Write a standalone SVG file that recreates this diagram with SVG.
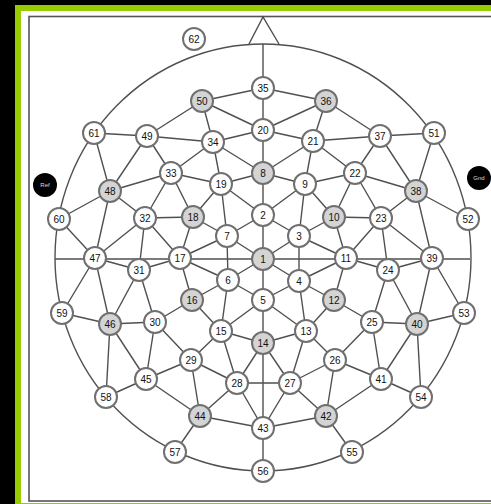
<svg xmlns="http://www.w3.org/2000/svg" width="491" height="504" viewBox="0 0 491 504">
<style>
.e{stroke:#505050;stroke-width:1.4;fill:none}
.n{fill:#fff;stroke:#707070;stroke-width:2}
.g{fill:#d4d4d4;stroke:#707070;stroke-width:2}
.b{fill:#000}
text{font-family:"Liberation Sans",Arial,sans-serif;font-size:10px;fill:#111;text-anchor:middle}
.w{font-size:6px;fill:#ddd}
</style>
<rect width="491" height="504" fill="#000"/>
<rect x="15" y="5" width="476" height="499" fill="#99cc00"/>
<rect x="21" y="11" width="470" height="492" fill="#fff"/>
<rect x="29" y="16.500" width="470" height="484.500" fill="none" stroke="#555" stroke-width="1.600"/>
<g id="connectors" class="e">
<ellipse cx="263" cy="257.500" rx="208" ry="213.500"/>
<path d="M249 44L263 17L279 44M263 44V471M55 259H470"/>
<path d="M202 101L263 88M202 101L147 136M202 101L213 142M202 101L263 130M263 88L326 101M326 101L263 130M326 101L313 141M326 101L380 136M94 133L147 136M94 133L110 191M147 136L213 142M147 136L110 191M147 136L171 173M213 142L263 130M213 142L171 173M213 142L221 184M213 142L263 173M171 173L110 191M171 173L145 218M171 173L193 217M171 173L221 184M221 184L263 173M221 184L193 217M221 184L227 236M221 184L263 215M263 130L313 141M313 141L380 136M313 141L263 173M313 141L305 184M313 141L355 173M380 136L355 173M380 136L416 191M380 136L434 133M434 133L416 191M263 173L305 184M305 184L355 173M305 184L263 215M305 184L299 236M305 184L334 217M355 173L334 217M355 173L381 218M355 173L416 191M416 191L381 218M416 191L468 219M416 191L432 258M334 217L381 218M334 217L299 236M334 217L346 258M381 218L346 258M381 218L388 270M381 218L432 258M263 215L227 236M263 215L299 236M299 236L263 259M299 236L346 258M299 236L299 281M227 236L263 259M227 236L193 217M227 236L180 258M227 236L228 280M193 217L145 218M193 217L180 258M110 191L59 219M110 191L145 218M110 191L95 258M145 218L95 258M145 218L139 270M145 218L180 258M59 219L95 258M95 258L139 270M95 258L62 313M95 258L110 324M139 270L180 258M139 270L110 324M139 270L155 322M180 258L192 300M180 258L228 280M228 280L192 300M228 280L263 259M228 280L263 300M228 280L221 331M192 300L155 322M192 300L221 331M62 313L110 324M110 324L155 322M110 324L146 379M110 324L106 397M155 322L146 379M155 322L191 360M221 331L263 300M221 331L191 360M221 331L237 383M221 331L263 343M191 360L146 379M191 360L237 383M191 360L200 416M146 379L106 397M146 379L200 416M200 416L237 383M200 416L175 452M200 416L263 428M237 383L263 343M237 383L290 383M237 383L263 428M263 343L306 331M263 343L290 383M263 428L290 383M263 428L326 416M290 383L306 331M290 383L335 360M290 383L326 416M335 360L306 331M335 360L372 322M335 360L381 379M335 360L326 416M326 416L381 379M326 416L352 452M381 379L372 322M381 379L417 324M381 379L421 397M421 397L417 324M372 322L334 300M372 322L417 324M372 322L388 270M388 270L346 258M388 270L432 258M388 270L417 324M432 258L417 324M432 258L464 313M417 324L464 313M334 300L346 258M334 300L299 281M334 300L306 331M299 281L346 258M299 281L263 259M299 281L263 300M299 281L306 331M263 300L306 331"/>
</g>
<g id="n62"><circle class="n" cx="194" cy="39" r="11"/><text x="194" y="42.500">62</text></g>
<g id="n35"><circle class="n" cx="263" cy="88" r="11"/><text x="263" y="91.500">35</text></g>
<g id="n50"><circle class="g" cx="202" cy="101" r="11"/><text x="202" y="104.500">50</text></g>
<g id="n36"><circle class="g" cx="326" cy="101" r="11"/><text x="326" y="104.500">36</text></g>
<g id="n20"><circle class="n" cx="263" cy="130" r="11"/><text x="263" y="133.500">20</text></g>
<g id="n61"><circle class="n" cx="94" cy="133" r="11"/><text x="94" y="136.500">61</text></g>
<g id="n51"><circle class="n" cx="434" cy="133" r="11"/><text x="434" y="136.500">51</text></g>
<g id="n49"><circle class="n" cx="147" cy="136" r="11"/><text x="147" y="139.500">49</text></g>
<g id="n37"><circle class="n" cx="380" cy="136" r="11"/><text x="380" y="139.500">37</text></g>
<g id="n34"><circle class="n" cx="213" cy="142" r="11"/><text x="213" y="145.500">34</text></g>
<g id="n21"><circle class="n" cx="313" cy="141" r="11"/><text x="313" y="144.500">21</text></g>
<g id="n33"><circle class="n" cx="171" cy="173" r="11"/><text x="171" y="176.500">33</text></g>
<g id="n8"><circle class="g" cx="263" cy="173" r="11"/><text x="263" y="176.500">8</text></g>
<g id="n22"><circle class="n" cx="355" cy="173" r="11"/><text x="355" y="176.500">22</text></g>
<g id="n19"><circle class="n" cx="221" cy="184" r="11"/><text x="221" y="187.500">19</text></g>
<g id="n9"><circle class="n" cx="305" cy="184" r="11"/><text x="305" y="187.500">9</text></g>
<g id="nRef"><circle class="b" cx="45" cy="185" r="12"/><text class="w" x="45" y="187">Ref</text></g>
<g id="nGnd"><circle class="b" cx="479" cy="178" r="12"/><text class="w" x="479" y="180">Gnd</text></g>
<g id="n48"><circle class="g" cx="110" cy="191" r="11"/><text x="110" y="194.500">48</text></g>
<g id="n38"><circle class="g" cx="416" cy="191" r="11"/><text x="416" y="194.500">38</text></g>
<g id="n2"><circle class="n" cx="263" cy="215" r="11"/><text x="263" y="218.500">2</text></g>
<g id="n18"><circle class="g" cx="193" cy="217" r="11"/><text x="193" y="220.500">18</text></g>
<g id="n10"><circle class="g" cx="334" cy="217" r="11"/><text x="334" y="220.500">10</text></g>
<g id="n32"><circle class="n" cx="145" cy="218" r="11"/><text x="145" y="221.500">32</text></g>
<g id="n23"><circle class="n" cx="381" cy="218" r="11"/><text x="381" y="221.500">23</text></g>
<g id="n60"><circle class="n" cx="59" cy="219" r="11"/><text x="59" y="222.500">60</text></g>
<g id="n52"><circle class="n" cx="468" cy="219" r="11"/><text x="468" y="222.500">52</text></g>
<g id="n7"><circle class="n" cx="227" cy="236" r="11"/><text x="227" y="239.500">7</text></g>
<g id="n3"><circle class="n" cx="299" cy="236" r="11"/><text x="299" y="239.500">3</text></g>
<g id="n47"><circle class="n" cx="95" cy="258" r="11"/><text x="95" y="261.500">47</text></g>
<g id="n17"><circle class="n" cx="180" cy="258" r="11"/><text x="180" y="261.500">17</text></g>
<g id="n1"><circle class="g" cx="263" cy="259" r="11"/><text x="263" y="262.500">1</text></g>
<g id="n11"><circle class="n" cx="346" cy="258" r="11"/><text x="346" y="261.500">11</text></g>
<g id="n39"><circle class="n" cx="432" cy="258" r="11"/><text x="432" y="261.500">39</text></g>
<g id="n31"><circle class="n" cx="139" cy="270" r="11"/><text x="139" y="273.500">31</text></g>
<g id="n24"><circle class="n" cx="388" cy="270" r="11"/><text x="388" y="273.500">24</text></g>
<g id="n6"><circle class="n" cx="228" cy="280" r="11"/><text x="228" y="283.500">6</text></g>
<g id="n4"><circle class="n" cx="299" cy="281" r="11"/><text x="299" y="284.500">4</text></g>
<g id="n16"><circle class="g" cx="192" cy="300" r="11"/><text x="192" y="303.500">16</text></g>
<g id="n5"><circle class="n" cx="263" cy="300" r="11"/><text x="263" y="303.500">5</text></g>
<g id="n12"><circle class="g" cx="334" cy="300" r="11"/><text x="334" y="303.500">12</text></g>
<g id="n59"><circle class="n" cx="62" cy="313" r="11"/><text x="62" y="316.500">59</text></g>
<g id="n53"><circle class="n" cx="464" cy="313" r="11"/><text x="464" y="316.500">53</text></g>
<g id="n30"><circle class="n" cx="155" cy="322" r="11"/><text x="155" y="325.500">30</text></g>
<g id="n25"><circle class="n" cx="372" cy="322" r="11"/><text x="372" y="325.500">25</text></g>
<g id="n46"><circle class="g" cx="110" cy="324" r="11"/><text x="110" y="327.500">46</text></g>
<g id="n40"><circle class="g" cx="417" cy="324" r="11"/><text x="417" y="327.500">40</text></g>
<g id="n15"><circle class="n" cx="221" cy="331" r="11"/><text x="221" y="334.500">15</text></g>
<g id="n13"><circle class="n" cx="306" cy="331" r="11"/><text x="306" y="334.500">13</text></g>
<g id="n14"><circle class="g" cx="263" cy="343" r="11"/><text x="263" y="346.500">14</text></g>
<g id="n29"><circle class="n" cx="191" cy="360" r="11"/><text x="191" y="363.500">29</text></g>
<g id="n26"><circle class="n" cx="335" cy="360" r="11"/><text x="335" y="363.500">26</text></g>
<g id="n45"><circle class="n" cx="146" cy="379" r="11"/><text x="146" y="382.500">45</text></g>
<g id="n41"><circle class="n" cx="381" cy="379" r="11"/><text x="381" y="382.500">41</text></g>
<g id="n28"><circle class="n" cx="237" cy="383" r="11"/><text x="237" y="386.500">28</text></g>
<g id="n27"><circle class="n" cx="290" cy="383" r="11"/><text x="290" y="386.500">27</text></g>
<g id="n58"><circle class="n" cx="106" cy="397" r="11"/><text x="106" y="400.500">58</text></g>
<g id="n54"><circle class="n" cx="421" cy="397" r="11"/><text x="421" y="400.500">54</text></g>
<g id="n44"><circle class="g" cx="200" cy="416" r="11"/><text x="200" y="419.500">44</text></g>
<g id="n42"><circle class="g" cx="326" cy="416" r="11"/><text x="326" y="419.500">42</text></g>
<g id="n43"><circle class="n" cx="263" cy="428" r="11"/><text x="263" y="431.500">43</text></g>
<g id="n57"><circle class="n" cx="175" cy="452" r="11"/><text x="175" y="455.500">57</text></g>
<g id="n55"><circle class="n" cx="352" cy="452" r="11"/><text x="352" y="455.500">55</text></g>
<g id="n56"><circle class="n" cx="263" cy="471" r="11"/><text x="263" y="474.500">56</text></g>
</svg>
